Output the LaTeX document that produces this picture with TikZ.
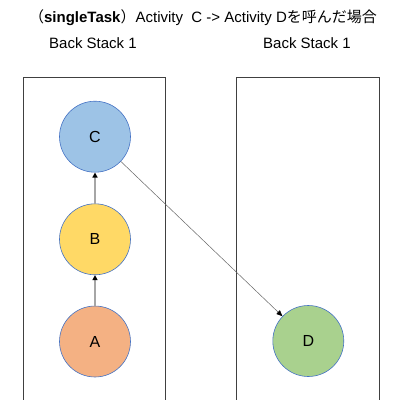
\documentclass[tikz,border=0pt]{standalone}
\usepackage{fontspec}
\setmainfont{Liberation Sans}
\newfontfamily\cjk{Noto Sans CJK JP}
\usetikzlibrary{arrows.meta}
\definecolor{cblue}{HTML}{9DC3E6}
\definecolor{cyellow}{HTML}{FFD966}
\definecolor{corange}{HTML}{F4B183}
\definecolor{cgreen}{HTML}{A9D18E}
\definecolor{cedge}{HTML}{4472C4}
\definecolor{boxline}{HTML}{404040}
\begin{document}
\begin{tikzpicture}[x=1pt,y=-1pt,
  stackbox/.style={draw=boxline,line width=0.9pt},
  act/.style={circle,draw=cedge,line width=0.6pt,minimum size=71pt,inner sep=0pt,font=\fontsize{16}{18}\selectfont},
  up/.style={draw=gray!70,line width=1.3pt,-{Triangle[length=5pt,width=5pt,black]}},
  call/.style={draw=black!60,line width=0.5pt,-{Triangle[length=6pt,width=5pt,black]}},
  lbl/.style={font=\fontsize{15}{18}\selectfont,inner sep=0pt}]
\useasboundingbox (0,0) rectangle (400,400);
\clip (0,0) rectangle (400,400);
\draw[stackbox] (23.5,77.5) rectangle (165.7,410);
\draw[stackbox] (236.7,77.5) rectangle (379,410);
\node[lbl] (title) at (203,18) {{\cjk （}\textbf{singleTask}{\cjk ）}Activity\ \ C -> Activity D{\cjk を呼んだ場合}};
\node[lbl] (bs1) at (93,43) {Back Stack 1};
\node[lbl] (bs2) at (307,43) {Back Stack 1};
\node[act,fill=cblue] (C) at (95,136.7) {C};
\node[act,fill=cyellow] (B) at (95,239.3) {B};
\node[act,fill=corange] (A) at (95,341.5) {A};
\node[act,fill=cgreen] (D) at (308.3,341) {D};
\draw[up] (A) -- (B);
\draw[up] (B) -- (C);
\draw[call] (C) -- (D);
\end{tikzpicture}
\end{document}
